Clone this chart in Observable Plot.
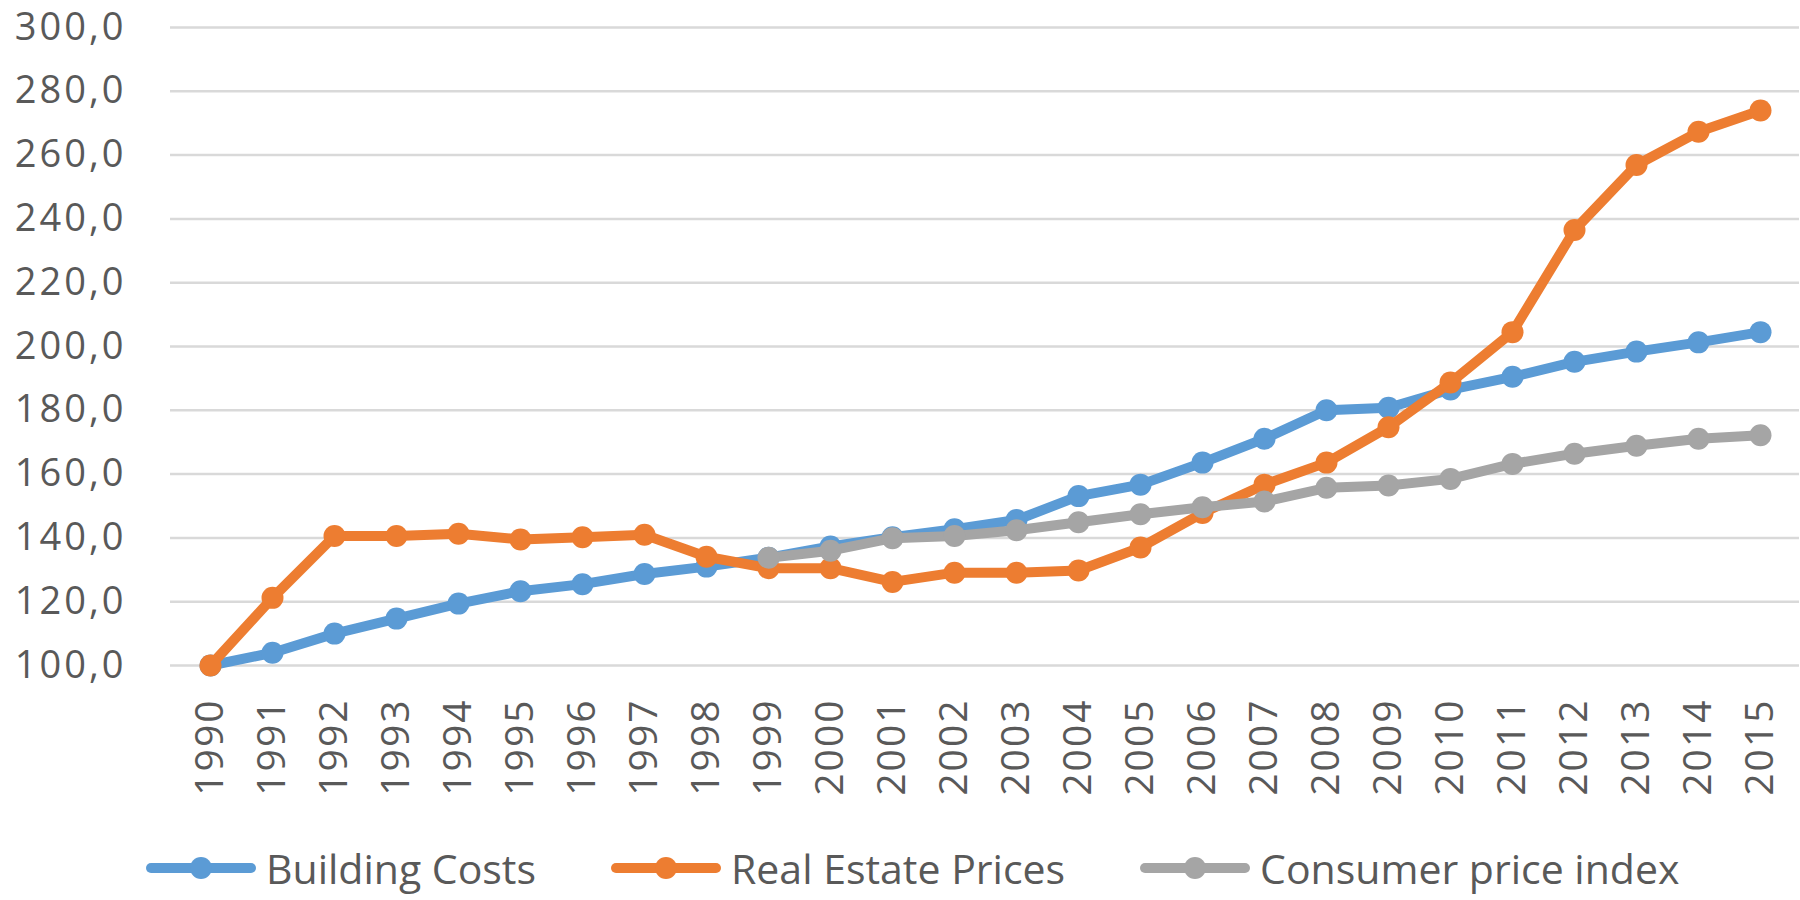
<!DOCTYPE html>
<html>
<head>
<meta charset="utf-8">
<script src="https://cdn.jsdelivr.net/npm/d3@7"></script>
<script src="https://cdn.jsdelivr.net/npm/@observablehq/plot@0.6"></script>
<style>
  html, body { margin: 0; padding: 0; background: #fff; }
  #wrap { width: 1800px; font-family: "Open Sans", sans-serif; color: #595959; }
  #legend { display: flex; align-items: center; height: 56px; padding-left: 145px; box-sizing: border-box; }
  .item { display: flex; align-items: center; margin-right: 74px; }
  .item span { font-size: 41px; margin-left: 9px; line-height: 1; }
  .yax text { letter-spacing: 3px; }
  .xax text { letter-spacing: 2px; }
</style>
</head>
<body>
<div id="wrap">
  <div id="chart"></div>
  <div id="legend"></div>
</div>
<script>
const years = [1990,1991,1992,1993,1994,1995,1996,1997,1998,1999,2000,2001,2002,2003,2004,2005,2006,2007,2008,2009,2010,2011,2012,2013,2014,2015];
const seriesNames = ["Building Costs", "Real Estate Prices", "Consumer price index"];
const seriesColors = ["#5B9BD5", "#ED7D31", "#A5A5A5"];
const buildingCosts = [100,104,110,114.7,119.4,123.3,125.5,128.7,131,133.8,137.3,140.2,142.7,145.6,153.1,156.7,163.6,171.1,180,180.8,186.5,190.5,195.2,198.4,201.3,204.5];
const realEstate = [100,121.2,140.6,140.6,141.3,139.5,140.2,141,134.1,130.5,130.5,126.2,129.1,129.1,129.8,137,147.8,156.7,163.6,174.7,188.7,204.5,236.5,256.9,267.3,274];
const cpi = [null,null,null,null,null,null,null,null,null,133.8,136,139.9,140.6,142.4,144.9,147.4,149.6,151.4,155.7,156.4,158.5,163.2,166.4,168.9,171.1,172.2];
const yTicks = [100,120,140,160,180,200,220,240,260,280,300];

const allSeries = [buildingCosts, realEstate, cpi];
const rows = [];
allSeries.forEach((vals, si) => {
  vals.forEach((v, i) => { if (v != null) rows.push({year: years[i], series: seriesNames[si], value: v}); });
});

const marks = [
  Plot.ruleY(yTicks, {stroke: "#d9d9d9", strokeWidth: 2.5})
];
seriesNames.forEach((name, si) => {
  const d = rows.filter(r => r.series === name);
  marks.push(Plot.line(d, {x: "year", y: "value", stroke: seriesColors[si], strokeWidth: 10, strokeLinejoin: "round", strokeLinecap: "round"}));
  marks.push(Plot.dot(d, {x: "year", y: "value", fill: seriesColors[si], r: 11, stroke: null}));
});
marks.push(Plot.axisY({ticks: yTicks, tickSize: 0, tickPadding: 44, tickFormat: d => d.toFixed(1).replace(".", ","), fontSize: 38, className: "yax"}));
marks.push(Plot.axisX({tickSize: 0, tickPadding: 33, tickRotate: -90, tickFormat: d => String(d), fontSize: 39, className: "xax"}));

const chart = Plot.plot({
  width: 1800,
  height: 840,
  marginTop: 27,
  marginBottom: 175,
  marginLeft: 170,
  marginRight: 1,
  style: {fontFamily: "'Open Sans', sans-serif", color: "#595959", background: "#fff"},
  x: {type: "point", domain: years, padding: 0.5, label: null},
  y: {domain: [100, 300], label: null},
  marks
});
document.getElementById("chart").appendChild(chart);

const legend = document.getElementById("legend");
seriesNames.forEach((name, si) => {
  const item = document.createElement("div");
  item.className = "item";
  const c = seriesColors[si];
  item.innerHTML = `<svg width="112" height="30"><line x1="6" y1="15" x2="106" y2="15" stroke="${c}" stroke-width="10" stroke-linecap="round"/><circle cx="56" cy="15" r="11" fill="${c}"/></svg><span>${name}</span>`;
  legend.appendChild(item);
});
</script>
</body>
</html>
